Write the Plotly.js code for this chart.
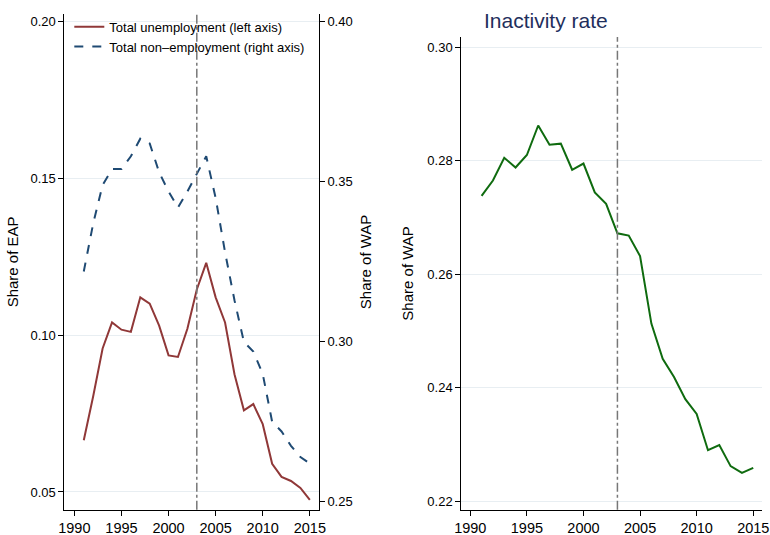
<!DOCTYPE html>
<html><head><script src="https://cdn.plot.ly/plotly-3.0.1.min.js"></script></head>
<body style="margin:0"><div id="c" style="width:770px;height:535px"></div>
<script>
const years=[1991,1992,1993,1994,1995,1996,1997,1998,1999,2000,2001,2002,2003,2004,2005,2006,2007,2008,2009,2010,2011,2012,2013,2014,2015];
const unemployment=[0.0665,0.0805,0.0957,0.104,0.1017,0.101,0.112,0.110,0.103,0.0935,0.093,0.102,0.1145,0.123,0.112,0.104,0.0875,0.076,0.078,0.0716,0.059,0.0548,0.0535,0.0513,0.0475];
const nonEmployment=[0.322,0.337,0.349,0.354,0.354,0.358,0.3635,0.362,0.353,0.347,0.342,0.347,0.3525,0.358,0.345,0.328,0.313,0.300,0.297,0.290,0.275,0.272,0.2675,0.264,0.262];
const inactivity=[0.2738,0.2765,0.2805,0.2788,0.281,0.2862,0.2828,0.283,0.2784,0.2795,0.2744,0.2724,0.2672,0.2668,0.2632,0.2513,0.2451,0.2419,0.238,0.2354,0.229,0.2299,0.2262,0.225,0.2259];
const f={family:'Liberation Sans, Arial',size:13,color:'#000'};
const tf={family:'Liberation Sans, Arial',size:15,color:'#000'};
const traces=[
{x:years,y:unemployment,type:'scatter',mode:'lines',name:'Total unemployment (left axis)',line:{color:'#903838',width:2},xaxis:'x',yaxis:'y'},
{x:years,y:nonEmployment,type:'scatter',mode:'lines',name:'Total non–employment (right axis)',line:{color:'#1f4a73',width:2,dash:'dash'},xaxis:'x',yaxis:'y2'},
{x:years,y:inactivity,type:'scatter',mode:'lines',showlegend:false,line:{color:'#0f6b0f',width:2},xaxis:'x2',yaxis:'y3'}];
const ax={showline:true,linecolor:'#000',ticks:'outside',ticklen:5,tickcolor:'#000',tickfont:f,zeroline:false};
const xt={tickvals:[1990,1995,2000,2005,2010,2015],tickfont:{family:'Liberation Sans, Arial',size:14.5,color:'#000'},showgrid:false};
const layout={width:770,height:535,margin:{l:0,r:0,t:0,b:0},paper_bgcolor:'#fff',plot_bgcolor:'rgba(0,0,0,0)',font:f,
xaxis:Object.assign({},ax,xt,{domain:[0.0836,0.414],range:[1988.94,2015.95],anchor:'y'}),
yaxis:Object.assign({},ax,{domain:[0.047,0.974],range:[0.0443,0.2023],tickvals:[0.05,0.10,0.15,0.20],tickformat:'.2f',showgrid:true,gridcolor:'#e8eef2',title:{text:'Share of EAP',font:tf,standoff:8},anchor:'x'}),
yaxis2:Object.assign({},ax,{overlaying:'y',side:'right',anchor:'x',range:[0.2475,0.4025],tickvals:[0.25,0.30,0.35,0.40],tickformat:'.2f',showgrid:false,title:{text:'Share of WAP',font:tf,standoff:8}}),
xaxis2:Object.assign({},ax,xt,{domain:[0.599,0.990],range:[1989.2,2015.8],anchor:'y3'}),
yaxis3:Object.assign({},ax,{domain:[0.047,0.931],range:[0.2185,0.3018],tickvals:[0.22,0.24,0.26,0.28,0.30],tickformat:'.2f',showgrid:true,gridcolor:'#e8eef2',title:{text:'Share of WAP',font:tf,standoff:10},anchor:'x2'}),
shapes:[
{type:'line',xref:'x',yref:'y domain',x0:2003,x1:2003,y0:0,y1:1,line:{color:'#777',width:1.5,dash:'dashdot'}},
{type:'line',xref:'x2',yref:'y3 domain',x0:2003,x1:2003,y0:0,y1:1,line:{color:'#777',width:1.5,dash:'dashdot'}}],
annotations:[{text:'Inactivity rate',xref:'paper',yref:'paper',x:0.792,y:0.962,yanchor:'middle',showarrow:false,font:{family:'Liberation Sans, Arial',size:21,color:'#1f2f5c'}}],
legend:{x:0.09,y:0.978,xanchor:'left',yanchor:'top',bgcolor:'rgba(255,255,255,0)',tracegroupgap:6,font:{family:'Liberation Sans, Arial',size:13,color:'#000'}}
};
Plotly.newPlot('c',traces,layout,{displayModeBar:false});
</script></body></html>
